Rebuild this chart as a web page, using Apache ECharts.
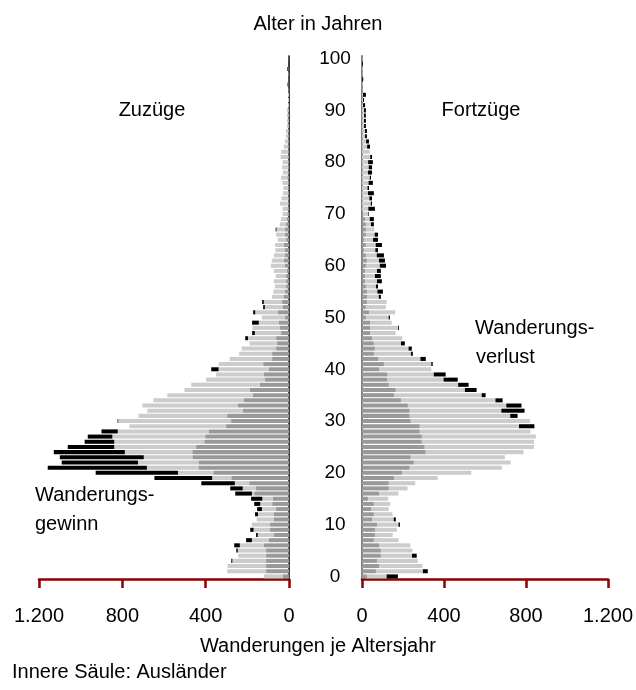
<!DOCTYPE html>
<html>
<head>
<meta charset="utf-8">
<script src="https://cdn.jsdelivr.net/npm/echarts@6/dist/echarts.min.js"></script>
<style>
html,body{margin:0;padding:0;background:#fff;}
#c{width:636px;height:690px;}
</style>
</head>
<body>
<div id="c"></div>
<script>
// Age categories 0..100
const ages = Array.from({length: 101}, (_, i) => String(i));

// Zuzüge (arrivals) total per age 0..100
const zuzuege = [
  120,297,295,277,244,253,263,206,158,186,
  178,155,163,153,167,182,258,282,421,646,
  928,1158,1091,1100,1129,1062,981,966,900,766,
  823,723,680,704,651,584,502,469,398,350,
  373,338,285,239,227,190,210,177,176,177,
  130,172,124,129,82,75,68,73,63,73,
  87,83,72,65,67,54,62,64,44,38,
  31,31,43,36,29,27,32,38,29,33,
  30,40,38,25,20,15,15,10,10,10,
  10,5,5,5,2,7,1,2,8,0,1
];

// Fortzüge (departures) total per age 0..100
const fortzuege = [
  175,321,295,272,267,246,236,178,150,170,
  185,165,149,130,138,128,178,222,260,369,
  533,682,725,697,788,839,839,848,822,841,
  820,759,793,778,686,603,559,520,467,408,
  338,345,311,248,243,209,197,164,180,145,
  136,162,116,121,92,102,78,97,92,92,
  117,112,107,78,97,78,78,60,58,58,
  34,63,49,49,58,34,53,44,49,49,
  53,49,38,39,34,24,24,19,19,19,
  19,15,10,19,2,3,6,2,3,4,1
];

// Inner column: Ausländer (foreigners) – arrivals
const zuAuslaender = [
  29,110,110,110,110,110,120,96,72,91,
  91,72,72,62,81,77,167,158,191,277,
  363,435,435,464,464,446,407,402,384,302,
  278,297,221,245,216,173,188,140,115,120,
  96,124,81,81,62,57,62,38,43,48,
  19,53,29,33,24,19,14,14,14,10,
  19,24,19,19,24,14,19,19,14,10,
  8,8,6,5,5,5,5,8,5,5,
  5,4,4,3,3,2,2,1,1,1,
  1,0,0,0,0,0,0,0,0,0,0
];

// Inner column: Ausländer (foreigners) – departures
const fortAuslaender = [
  24,68,83,73,92,92,83,58,63,63,
  73,49,58,44,58,29,83,131,131,156,
  195,233,253,238,311,306,292,292,282,282,
  238,233,233,224,190,156,165,131,122,122,
  83,107,78,58,63,58,49,39,39,39,
  19,34,19,24,24,24,19,15,15,15,
  19,24,19,10,19,10,19,19,19,15,
  5,0,0,0,0,0,0,0,0,0,
  0,0,0,0,0,0,0,0,0,0,
  0,0,0,0,0,0,0,0,0,0,0
];

const xTicks = [0, 400, 800, 1200];
const xTickLabels = ['0', '400', '800', '1.200'];

// derived stack segments
function segments(own, other, inner) {
  const innerSeg = [], outerSeg = [], excessSeg = [];
  for (let i = 0; i < own.length; i++) {
    const common = Math.min(own[i], other[i]);
    const inn = Math.min(inner[i], common);
    innerSeg.push(inn);
    outerSeg.push(Math.max(0, common - inn));
    excessSeg.push(Math.max(0, own[i] - other[i]));
  }
  return [innerSeg, outerSeg, excessSeg];
}
const L = segments(zuzuege, fortzuege, zuAuslaender);
const R = segments(fortzuege, zuzuege, fortAuslaender);

const FONT = '"Liberation Sans", Arial, sans-serif';
const RED = '#8B0000';
const colors = ['#999999', '#cccccc', '#000000'];

function fmt(v) {
  const idx = xTicks.indexOf(v);
  return idx >= 0 ? xTickLabels[idx] : String(v);
}

const xAxisCommon = {
  type: 'value', min: 0, max: 1200, interval: 400,
  axisLine: {show: true, lineStyle: {color: RED, width: 2.5}},
  axisTick: {show: true, length: 9, lineStyle: {color: RED, width: 2.5}},
  axisLabel: {fontFamily: FONT, fontSize: 20, color: '#000', margin: 27, formatter: fmt},
  splitLine: {show: false}
};

const series = [];
[L, R].forEach((side, s) => {
  side.forEach((d, k) => {
    series.push({
      type: 'bar', xAxisIndex: s, yAxisIndex: s, stack: s === 0 ? 'zu' : 'fort',
      data: d, barCategoryGap: '22%',
      itemStyle: {color: colors[k]},
      silent: true
    });
  });
});

const chart = echarts.init(document.getElementById('c'), null, {renderer: 'canvas'});
chart.setOption({
  animation: false,
  backgroundColor: '#fff',
  grid: [
    {left: 39, top: 56, width: 250, height: 523},
    {left: 362, top: 56, width: 247, height: 523}
  ],
  xAxis: [
    Object.assign({}, xAxisCommon, {gridIndex: 0, inverse: true}),
    Object.assign({}, xAxisCommon, {gridIndex: 1})
  ],
  yAxis: [
    {type: 'category', gridIndex: 0, data: ages, position: 'right',
     axisLine: {show: true, lineStyle: {color: '#000', width: 1.5}},
     axisTick: {show: false}, axisLabel: {show: false}, splitLine: {show: false}},
    {type: 'category', gridIndex: 1, data: ages, position: 'left',
     axisLine: {show: true, lineStyle: {color: '#808080', width: 2}},
     axisTick: {show: false},
     axisLabel: {show: true, interval: 9, align: 'center', margin: 27,
                 padding: [5, 0, 0, 0],
                 fontFamily: FONT, fontSize: 19, color: '#000'},
     splitLine: {show: false}}
  ],
  series: series,
  graphic: [
    {type: 'text', style: {text: 'Alter in Jahren', x: 318, y: 24, font: '20px ' + FONT, textAlign: 'center', textVerticalAlign: 'middle', fill: '#000'}},
    {type: 'text', style: {text: 'Zuzüge', x: 152, y: 110, font: '20px ' + FONT, textAlign: 'center', textVerticalAlign: 'middle', fill: '#000'}},
    {type: 'text', style: {text: 'Fortzüge', x: 481, y: 110, font: '20px ' + FONT, textAlign: 'center', textVerticalAlign: 'middle', fill: '#000'}},
    {type: 'text', style: {text: 'Wanderungs-', x: 35, y: 495, font: '20px ' + FONT, textAlign: 'left', textVerticalAlign: 'middle', fill: '#000'}},
    {type: 'text', style: {text: 'gewinn', x: 35, y: 524, font: '20px ' + FONT, textAlign: 'left', textVerticalAlign: 'middle', fill: '#000'}},
    {type: 'text', style: {text: 'Wanderungs-', x: 475, y: 328, font: '20px ' + FONT, textAlign: 'left', textVerticalAlign: 'middle', fill: '#000'}},
    {type: 'text', style: {text: 'verlust', x: 476, y: 357, font: '20px ' + FONT, textAlign: 'left', textVerticalAlign: 'middle', fill: '#000'}},
    {type: 'text', style: {text: 'Wanderungen je Altersjahr', x: 318, y: 646, font: '20px ' + FONT, textAlign: 'center', textVerticalAlign: 'middle', fill: '#000'}},
    {type: 'text', style: {text: 'Innere Säule: Ausländer', x: 12, y: 672, font: '20px ' + FONT, textAlign: 'left', textVerticalAlign: 'middle', fill: '#000'}}
  ]
});
</script>
</body>
</html>
